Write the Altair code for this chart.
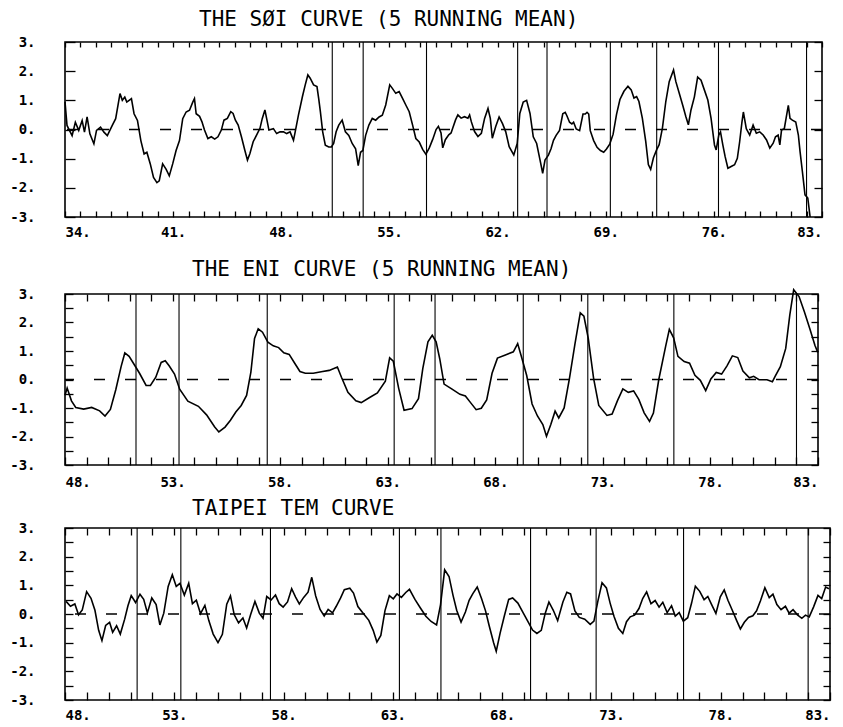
import altair as alt
import pandas as pd

# ---------------- data ----------------
soi_year = [
    34.0, 34.13, 34.24, 34.46, 34.67, 34.89, 35.11, 35.26, 35.43, 35.61,
    35.87, 36.04, 36.30, 36.52, 36.74, 37.06, 37.28, 37.56, 37.71, 37.87,
    38.00, 38.15, 38.30, 38.47, 38.69, 38.91, 39.12, 39.30, 39.52, 39.73,
    39.95, 40.10, 40.32, 40.54, 40.75, 40.97, 41.19, 41.41, 41.62, 41.84,
    42.06, 42.27, 42.38, 42.49, 42.71, 42.86, 43.03, 43.25, 43.47, 43.69,
    43.90, 44.12, 44.29, 44.51, 44.73, 44.88, 45.03, 45.21, 45.42, 45.64,
    45.81, 45.97, 46.18, 46.40, 46.62, 46.77, 46.94, 47.07, 47.20, 47.49,
    47.70, 47.92, 48.14, 48.35, 48.57, 48.79, 48.90, 49.11, 49.37, 49.55,
    49.72, 49.87, 50.09, 50.31, 50.42, 50.53, 50.68, 50.85, 51.07, 51.24,
    51.39, 51.55, 51.72, 51.94, 52.15, 52.37, 52.59, 52.81, 52.98, 53.13,
    53.28, 53.46, 53.67, 53.89, 54.11, 54.33, 54.54, 54.76, 55.02, 55.19,
    55.41, 55.63, 55.85, 56.06, 56.28, 56.50, 56.71, 56.93, 57.15, 57.36,
    57.58, 57.80, 58.02, 58.17, 58.34, 58.45, 58.62, 58.84, 58.99, 59.10,
    59.28, 59.43, 59.64, 59.86, 60.08, 60.19, 60.30, 60.51, 60.73, 60.95,
    61.16, 61.38, 61.53, 61.66, 61.88, 62.10, 62.32, 62.53, 62.75, 63.05,
    63.27, 63.44, 63.66, 63.88, 64.10, 64.31, 64.53, 64.75, 64.92, 65.07,
    65.29, 65.46, 65.62, 65.79, 66.01, 66.22, 66.38, 66.48, 66.66, 66.81,
    66.92, 67.09, 67.31, 67.53, 67.68, 67.79, 67.90, 68.00, 68.22, 68.44,
    68.66, 68.87, 69.05, 69.26, 69.48, 69.70, 69.92, 70.18, 70.44, 70.65,
    70.83, 71.00, 71.15, 71.37, 71.59, 71.76, 71.91, 72.09, 72.30, 72.46,
    72.67, 72.89, 73.11, 73.39, 73.54, 73.76, 73.98, 74.19, 74.35, 74.52,
    74.74, 74.95, 75.17, 75.39, 75.61, 75.82, 76.04, 76.15, 76.32, 76.43,
    76.58, 76.73, 76.91, 77.12, 77.34, 77.52, 77.67, 77.82, 77.91, 78.10,
    78.32, 78.54, 78.75, 78.97, 79.19, 79.41, 79.62, 79.84, 79.99, 80.16,
    80.27, 80.38, 80.56, 80.71, 80.82, 80.93, 81.08, 81.30, 81.47, 81.58,
    81.73, 81.90, 82.08, 82.23,
]
soi_value = [
    0.95, 0.14, 0.02, -0.21, 0.25, -0.03, 0.31, -0.09, 0.43, -0.15,
    -0.49, -0.03, 0.08, -0.09, -0.21, 0.14, 0.37, 1.23, 1.00, 1.11,
    0.94, 1.00, 1.06, 0.54, 0.31, -0.38, -0.84, -0.78, -1.18, -1.64,
    -1.82, -1.76, -1.18, -1.36, -1.59, -1.18, -0.72, -0.38, 0.37, 0.60,
    0.66, 0.94, 1.06, 0.54, 0.45, 0.27, -0.02, -0.31, -0.25, -0.33,
    -0.25, -0.02, 0.32, 0.38, 0.61, 0.55, 0.32, 0.15, -0.25, -0.71,
    -1.05, -0.82, -0.42, -0.19, 0.04, 0.38, 0.67, 0.33, -0.02, 0.03,
    -0.14, -0.08, -0.08, -0.14, -0.08, -0.37, -0.08, 0.49, 1.13, 1.53,
    1.87, 1.76, 1.53, 1.47, 1.07, 0.61, -0.08, -0.54, -0.60, -0.60,
    -0.48, -0.08, 0.15, 0.32, -0.08, -0.20, -0.48, -0.66, -1.24, -0.78,
    -0.72, -0.20, 0.15, 0.38, 0.32, 0.43, 0.49, 0.84, 1.53, 1.41,
    1.24, 1.30, 1.07, 0.84, 0.61, 0.15, -0.31, -0.43, -0.68, -0.85,
    -0.63, -0.34, 0.00, 0.11, -0.12, -0.63, -0.35, -0.18, -0.12, 0.05,
    0.33, 0.50, 0.39, 0.44, 0.39, 0.50, 0.27, -0.07, -0.24, -0.13,
    0.38, 0.72, 0.38, -0.30, 0.10, 0.43, 0.20, -0.08, -0.59, -0.87,
    -0.48, 0.55, 0.94, 1.00, 0.55, -0.25, -0.48, -1.05, -1.50, -1.05,
    -0.88, -0.66, -0.37, -0.20, -0.03, 0.54, 0.59, 0.48, 0.25, 0.19,
    0.25, 0.02, -0.04, 0.53, 0.53, 0.59, 0.53, -0.04, -0.38, -0.61,
    -0.72, -0.78, -0.67, -0.50, -0.16, 0.52, 1.03, 1.31, 1.48, 1.36,
    1.08, 1.13, 0.96, 0.39, -0.41, -1.20, -1.37, -0.97, -0.69, -0.52,
    0.05, 0.96, 1.64, 2.04, 1.64, 1.24, 0.84, 0.44, 0.16, 0.67,
    1.12, 1.80, 1.69, 1.35, 1.01, 0.38, -0.53, -0.70, -0.19, -0.08,
    -0.53, -0.93, -1.33, -1.27, -1.21, -0.99, -0.42, 0.26, 0.60, 0.03,
    -0.19, 0.15, -0.13, -0.08, -0.19, -0.36, -0.64, -0.47, -0.25, -0.19,
    -0.53, -0.02, 0.03, 0.49, 0.83, 0.38, 0.32, 0.26, -0.19, -0.76,
    -1.44, -2.24, -2.35, -3.00,
]

eni_year = [
    48.0, 48.1, 48.3, 48.5, 48.87, 49.24, 49.61, 49.86, 50.11, 50.36,
    50.61, 50.78, 50.98, 51.23, 51.47, 51.77, 51.97, 52.22, 52.47, 52.66,
    52.84, 53.09, 53.33, 53.71, 54.2, 54.58, 54.95, 55.15, 55.44, 55.69,
    55.94, 56.19, 56.44, 56.64, 56.81, 56.98, 57.18, 57.43, 57.68, 57.93,
    58.17, 58.42, 58.67, 58.92, 59.17, 59.54, 59.91, 60.28, 60.66, 60.85,
    61.15, 61.52, 61.77, 62.14, 62.52, 62.89, 63.09, 63.26, 63.51, 63.76,
    64.13, 64.43, 64.63, 64.87, 65.07, 65.25, 65.42, 65.62, 65.99, 66.36,
    66.61, 66.86, 67.11, 67.35, 67.6, 67.85, 68.1, 68.47, 68.84, 69.04,
    69.22, 69.46, 69.71, 69.96, 70.21, 70.38, 70.58, 70.78, 70.95, 71.2,
    71.45, 71.7, 71.95, 72.12, 72.32, 72.57, 72.81, 73.19, 73.43, 73.68,
    73.93, 74.18, 74.43, 74.67, 74.92, 75.17, 75.35, 75.6, 75.92, 76.09,
    76.29, 76.49, 76.78, 77.03, 77.28, 77.53, 77.78, 78.02, 78.27, 78.52,
    78.77, 79.02, 79.27, 79.51, 79.81, 80.01, 80.26, 80.63, 80.88, 81.0,
    81.25, 81.5, 81.69, 81.87, 82.12, 82.37, 82.62, 82.86, 82.99,
]
eni_value = [
    -0.55, -0.3, -0.75, -0.98, -1.04, -0.98, -1.1, -1.28, -1.05, -0.36,
    0.46, 0.93, 0.81, 0.51, 0.21, -0.21, -0.21, 0.08, 0.6, 0.66,
    0.48, 0.19, -0.34, -0.76, -0.94, -1.24, -1.66, -1.84, -1.67, -1.43,
    -1.14, -0.91, -0.56, 0.26, 1.44, 1.78, 1.66, 1.31, 1.18, 1.12,
    0.94, 0.88, 0.58, 0.28, 0.22, 0.22, 0.27, 0.32, 0.44, 0.08,
    -0.45, -0.75, -0.81, -0.64, -0.47, -0.06, 0.76, 0.64, -0.31, -1.08,
    -1.02, -0.67, 0.38, 1.32, 1.55, 1.32, 0.72, -0.16, -0.34, -0.52,
    -0.58, -0.82, -1.06, -1.01, -0.72, 0.22, 0.75, 0.86, 0.97, 1.26,
    0.79, 0.14, -0.86, -1.28, -1.58, -1.99, -1.58, -1.11, -1.35, -1.0,
    0.05, 1.23, 2.34, 2.22, 1.45, 0.04, -0.91, -1.26, -1.21, -0.74,
    -0.33, -0.45, -0.4, -0.7, -1.17, -1.47, -1.18, 0.0, 1.17, 1.76,
    1.46, 0.81, 0.63, 0.57, 0.15, -0.03, -0.39, 0.02, 0.25, 0.19,
    0.48, 0.83, 0.77, 0.3, 0.06, 0.11, -0.01, -0.01, -0.08, 0.1,
    0.45, 1.09, 2.27, 3.15, 2.91, 2.37, 1.78, 1.19, 0.95,
]

tem_year = [
    48.05, 48.25, 48.45, 48.62, 48.79, 48.99, 49.19, 49.37, 49.54, 49.69,
    49.86, 50.04, 50.18, 50.36, 50.53, 50.73, 50.88, 51.03, 51.23, 51.43,
    51.6, 51.77, 51.97, 52.17, 52.34, 52.52, 52.72, 52.91, 53.09, 53.26,
    53.46, 53.66, 53.83, 54.01, 54.2, 54.4, 54.58, 54.78, 55.0, 55.2,
    55.4, 55.57, 55.74, 55.94, 56.14, 56.31, 56.49, 56.69, 56.89, 57.06,
    57.23, 57.43, 57.63, 57.8, 57.98, 58.18, 58.37, 58.55, 58.72, 58.92,
    59.12, 59.29, 59.47, 59.67, 59.86, 60.04, 60.24, 60.41, 60.61, 60.78,
    61.03, 61.2, 61.4, 61.65, 61.9, 62.1, 62.27, 62.45, 62.64, 62.84,
    63.02, 63.19, 63.39, 63.59, 63.76, 64.01, 64.26, 64.51, 64.75, 65.0,
    65.18, 65.37, 65.57, 65.75, 65.92, 66.12, 66.32, 66.49, 66.66, 66.86,
    67.06, 67.24, 67.41, 67.61, 67.73, 67.91, 68.1, 68.3, 68.48, 68.72,
    68.97, 69.22, 69.39, 69.59, 69.79, 69.97, 70.14, 70.34, 70.54, 70.78,
    70.96, 71.13, 71.33, 71.53, 71.78, 72.03, 72.2, 72.38, 72.57, 72.77,
    72.94, 73.12, 73.32, 73.52, 73.69, 73.86, 74.06, 74.26, 74.43, 74.61,
    74.81, 75.0, 75.18, 75.35, 75.55, 75.75, 75.92, 76.1, 76.29, 76.49,
    76.67, 76.84, 77.04, 77.24, 77.41, 77.59, 77.78, 77.98, 78.16, 78.33,
    78.53, 78.73, 78.9, 79.08, 79.27, 79.47, 79.64, 79.82, 80.02, 80.22,
    80.39, 80.57, 80.76, 80.96, 81.13, 81.31, 81.51, 81.71, 81.88, 82.05,
    82.25, 82.45, 82.62, 82.8, 82.95,
]
tem_value = [
    0.44, 0.27, 0.35, -0.03, 0.14, 0.78, 0.55, 0.13, -0.57, -0.93,
    -0.40, -0.29, -0.64, -0.41, -0.70, -0.18, 0.29, 0.64, 0.40, 0.69,
    0.51, 0.04, 0.56, 0.33, -0.38, 0.03, 0.96, 1.37, 0.96, 1.07,
    0.66, 1.07, 0.36, 0.48, 0.01, 0.30, -0.23, -0.70, -1.00, -0.71,
    0.34, 0.63, -0.02, -0.31, -0.14, -0.49, -0.03, 0.44, 0.03, -0.15,
    0.61, 0.49, 0.66, 0.36, 0.24, 0.42, 0.88, 0.59, 0.35, 0.58,
    0.76, 1.28, 0.63, 0.16, -0.07, 0.16, 0.04, 0.27, 0.56, 0.85,
    0.90, 0.73, 0.26, 0.02, -0.22, -0.57, -0.98, -0.75, 0.12, 0.64,
    0.53, 0.70, 0.58, 0.75, 0.86, 0.51, 0.21, -0.08, -0.26, -0.38,
    0.32, 1.54, 1.31, 0.66, 0.13, -0.28, 0.07, 0.48, 0.71, 0.94,
    0.53, 0.11, -0.42, -1.00, -1.30, -0.66, -0.07, 0.51, 0.56, 0.38,
    0.03, -0.32, -0.56, -0.68, -0.57, 0.02, 0.42, 0.13, -0.23, 0.42,
    0.76, 0.70, 0.11, -0.12, -0.18, -0.36, -0.25, 0.45, 1.09, 0.91,
    0.38, -0.09, -0.50, -0.68, -0.27, -0.10, -0.04, 0.19, 0.54, 0.77,
    0.36, 0.47, 0.24, 0.41, 0.05, 0.29, -0.07, 0.05, -0.25, -0.13,
    0.39, 0.97, 0.79, 0.50, 0.61, 0.32, 0.02, 0.60, 0.84, 0.48,
    0.13, -0.23, -0.52, -0.29, -0.12, -0.06, 0.11, 0.46, 0.92, 0.57,
    0.69, 0.33, 0.15, 0.27, 0.03, 0.15, -0.03, -0.15, -0.04, -0.10,
    0.25, 0.65, 0.54, 0.94, 0.88,
]

# El Nino marker years (vertical lines)
enso_years = [51.3, 53.3, 57.4, 63.3, 65.2, 69.3, 72.3, 76.3, 82.0]
mean_level = [0.0]

soi_labels = [34, 41, 48, 55, 62, 69, 76, 83]
eni_labels = [48, 53, 58, 63, 68, 73, 78, 83]

titles = [
    "THE SØI CURVE (5 RUNNING MEAN)",
    "THE ENI CURVE (5 RUNNING MEAN)",
    "TAIPEI TEM CURVE",
]

FONT = "DejaVu Sans Mono"


def panel(years, values, xmin, xmax, xlabels, title, width, height, ystep,
          left_tick, right_tick, bottom_tick, top_tick, title_dx, title_offset,
          xlabel_pad):
    df = pd.DataFrame({"year": years, "value": values})
    xs = alt.Scale(domain=[xmin, xmax], nice=False, zero=False)
    ys = alt.Scale(domain=[-3, 3], nice=False, zero=False)
    xticks = list(range(xmin, xmax + 1))
    n = int(round(6 / ystep))
    yticks = [-3 + i * ystep for i in range(n + 1)]
    xlab = "indexof([%s], datum.value) >= 0 ? datum.value + '.' : ''" % ",".join(
        str(v) for v in xlabels)
    ylab = "datum.value % 1 == 0 ? datum.value + '.' : ''"

    line = alt.Chart(df).mark_line(color="black", strokeWidth=1.6).encode(
        x=alt.X("year:Q", scale=xs, title=None,
                axis=alt.Axis(orient="bottom", values=xticks, labelExpr=xlab,
                              tickSize=bottom_tick, offset=-bottom_tick,
                              labelPadding=xlabel_pad, labelOverlap=False)),
        y=alt.Y("value:Q", scale=ys, title=None,
                axis=alt.Axis(orient="left", values=yticks, labelExpr=ylab,
                              tickSize=left_tick, offset=-left_tick,
                              labelPadding=30, labelOverlap=False)),
    )
    edf = pd.DataFrame({"year": [y for y in enso_years if xmin <= y <= xmax]})
    vlines = alt.Chart(edf).mark_rule(color="black", strokeWidth=1.1).encode(
        x=alt.X("year:Q", scale=xs, title=None,
                axis=alt.Axis(orient="top", values=xticks, labels=False,
                              tickSize=top_tick, offset=-top_tick)),
    )
    dash = alt.Chart(pd.DataFrame({"level": mean_level})).mark_rule(
        color="black", strokeWidth=1.5, strokeDash=[11, 20]
    ).encode(
        y=alt.Y("level:Q", scale=ys, title=None,
                axis=alt.Axis(orient="right", values=yticks, labels=False,
                              tickSize=right_tick, offset=-right_tick)),
    )
    return alt.layer(vlines, dash, line).resolve_axis(
        x="independent", y="independent"
    ).properties(
        width=width, height=height,
        title=alt.TitleParams(title, anchor="start", frame="group",
                              dx=title_dx, offset=title_offset),
    )


p1 = panel(soi_year, soi_value, 34, 83, soi_labels, titles[0], 757, 175, 1,
           10, 8, 6, 5, 134, 5, 8)
p2 = panel(eni_year, eni_value, 48, 83, eni_labels, titles[1], 753, 171, 0.5,
           8, 7, 8, 7, 127, 7, 10)
p3 = panel(tem_year, tem_value, 48, 83, eni_labels, titles[2], 765, 172, 0.5,
           8, 7, 8, 7, 127, 2, 8)

chart = alt.vconcat(
    alt.vconcat(p1, p2, spacing=17),
    p3,
    spacing=7,
).properties(
    padding={"left": 0, "top": 0, "right": 0, "bottom": 0}
).configure_view(
    stroke="black", strokeWidth=1.6
).configure_axis(
    domain=False, grid=False, tickColor="black", tickWidth=1.3,
    labelFont=FONT, labelFontSize=14, labelFontWeight="bold", labelColor="black",
).configure_title(
    font=FONT, fontSize=21, fontWeight="normal", color="black"
)

chart.save("out.html", embed_options={"renderer": "svg", "actions": False})
